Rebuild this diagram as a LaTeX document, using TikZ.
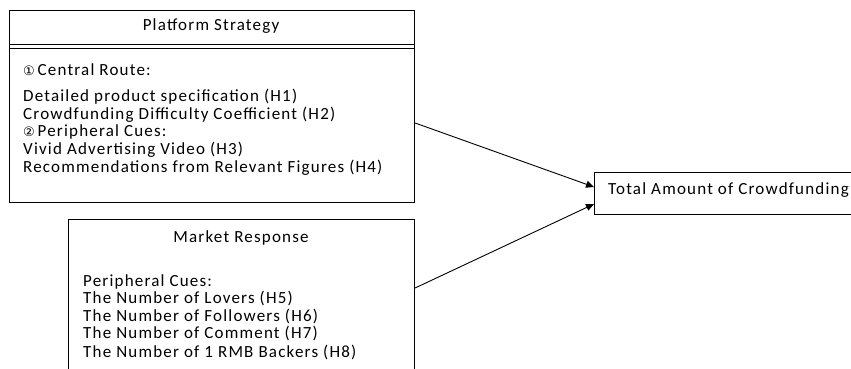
\documentclass[tikz,border=0pt]{standalone}
\usepackage{fontspec}
\setmainfont{Carlito}[LetterSpace=7]
\newfontfamily\symfont{DejaVu Sans}
\usetikzlibrary{arrows.meta}
\begin{document}
\begin{tikzpicture}[x=1pt,y=-1pt,
  box/.style={draw=black,line width=1.1pt,minimum width=#1,inner sep=0pt,anchor=north west},
  txt/.style={anchor=base west,inner sep=0pt,font=\fontsize{17}{19}\selectfont},
  ttl/.style={anchor=base,inner sep=0pt,font=\fontsize{17}{19}\selectfont},
  conn/.style={line width=0.9pt,-{Triangle[length=8pt,width=7pt]}}]
\useasboundingbox (0,0) rectangle (851,369);
\clip (0,0) rectangle (851,369);
% boxes
\node[box=405pt,minimum height=192pt] (ps) at (9,10) {};
\node[box=346pt,minimum height=170pt] (mr) at (68,219) {};
\node[box=270pt,minimum height=42pt] (tot) at (594,172) {};
% header divider of Platform Strategy
\draw[line width=0.8pt] ([yshift=-34pt]ps.north west) -- ([yshift=-34pt]ps.north east);
\draw[line width=0.8pt] ([yshift=-38pt]ps.north west) -- ([yshift=-38pt]ps.north east);
% texts
\node[ttl] (t1) at (211,31) {Platform Strategy};
\node[txt] (a1) at (23,75) {{\symfont\fontsize{13}{15}\selectfont ①}\,Central Route:};
\node[txt] (a2) at (23,101) {Detailed product specification (H1)};
\node[txt] (a3) at (23,119) {Crowdfunding Difficulty Coefficient (H2)};
\node[txt] (a4) at (23,136) {{\symfont\fontsize{13}{15}\selectfont ②}\,Peripheral Cues:};
\node[txt] (a5) at (23,154) {Vivid Advertising Video (H3)};
\node[txt] (a6) at (23,172) {Recommendations from Relevant Figures (H4)};
\node[ttl] (t2) at (241,242) {Market Response};
\node[txt] (b1) at (83,286) {Peripheral Cues:};
\node[txt] (b2) at (83,303) {The Number of Lovers (H5)};
\node[txt] (b3) at (83,321) {The Number of Followers (H6)};
\node[txt] (b4) at (83,338) {The Number of Comment (H7)};
\node[txt] (b5) at (83,357) {The Number of 1 RMB Backers (H8)};
\node[txt] (c1) at (608,194) {Total Amount of Crowdfunding};
% connectors
\draw[conn] ([yshift=-113pt]ps.north east) -- ([yshift=-15pt]tot.north west);
\draw[conn] ([yshift=-69pt]mr.north east) -- ([yshift=-32pt]tot.north west);
\end{tikzpicture}
\end{document}
